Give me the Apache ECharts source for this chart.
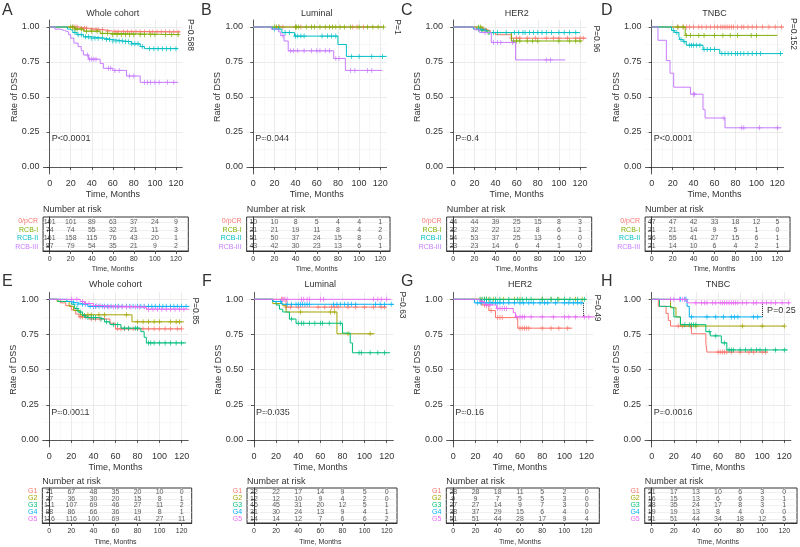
<!DOCTYPE html>
<html><head><meta charset="utf-8">
<script src="https://cdn.jsdelivr.net/npm/echarts@6/dist/echarts.min.js"></script>
<style>html,body{margin:0;padding:0;background:#fff}#c{width:800px;height:547px}</style>
</head><body><div id="c"></div><script>
// ---------- axis ticks & labels ----------
const months=[0,20,40,60,80,100,120];
const minorMonths=[10,30,50,70,90,110];
const survTicks=[0,0.25,0.5,0.75,1];
const minorSurv=[0.125,0.375,0.625,0.875];
const riskTimes=[0,20,40,60,80,100,120];
const rcbNames=['0/pCR','RCB-I','RCB-II','RCB-III'];
const gNames=['G1','G2','G3','G4','G5'];
const rcbColors=['#F8766D','#7CAE00','#00BFC4','#C77CFF'];
const gColors=['#F8766D','#A3A500','#00BF7D','#00B0F6','#E76BF3'];

// ---------- A: whole cohort by RCB ----------
const kmA_pCR=[[0,1],[28,0.99],[38,0.98],[52,0.97],[60,0.965],[124,0.965]];
const kmA_R1=[[0,1],[24,0.985],[32,0.97],[48,0.955],[56,0.945],[123,0.945]];
const kmA_R2=[[0,1],[17,0.985],[19,0.975],[22,0.96],[26,0.945],[32,0.93],[40,0.92],[52,0.91],[60,0.90],[70,0.895],[78,0.88],[86,0.86],[90,0.845],[122,0.845]];
const kmA_R3=[[0,1],[5,0.985],[10,0.975],[14,0.965],[18,0.945],[20,0.92],[23,0.885],[27,0.86],[30,0.83],[32,0.80],[37,0.77],[48,0.74],[51,0.705],[60,0.69],[73,0.65],[86,0.605],[122,0.605]];
const cenA_pCR=[22,24,26,30,33,35,40,44,46,50,55,62,65,70,74,78,82,86,90,95,98,102,106,110,114,118,122];
const cenA_R1=[20,22,24,26,30,35,40,45,50,55,60,64,68,72,76,80,86,90,96,100,110,116,122];
const cenA_R2=[24,27,30,34,37,40,43,46,50,54,57,60,63,66,69,72,75,78,81,84,88,95,99,103,107,111,115,120];
const cenA_R3=[36,38,40,42,44,56,58,62,66,76,80,90,93,96,100,104,112,118];
const riskA_pCR=[101,101,89,63,37,24,9];
const riskA_R1=[74,74,55,32,21,11,3];
const riskA_R2=[161,158,115,76,43,20,1];
const riskA_R3=[87,79,54,35,21,9,2];

// ---------- B: luminal by RCB ----------
const kmB_pCR=[[0,1],[122,1]];
const kmB_R1=[[0,1],[124,1]];
const kmB_R2=[[0,1],[18,0.985],[27,0.96],[39,0.935],[80,0.875],[88,0.79],[126,0.79]];
const kmB_R3=[[0,1],[17,0.985],[24,0.965],[26,0.94],[29,0.90],[33,0.83],[76,0.775],[87,0.69],[122,0.69]];
const cenB_pCR=[25,28,40,45,94,98,104];
const cenB_R1=[20,22,24,40,41,43,50,55,58,63,68,72,75,78,82,86,92,100,108,113,118,123];
const cenB_R2=[20,24,30,34,40,42,45,48,65,70,74,78,93,100,112,122];
const cenB_R3=[28,35,38,42,48,55,60,63,68,72,78,81,92,96,108,112];
const riskB_pCR=[10,10,8,5,4,4,1];
const riskB_R1=[21,21,19,11,8,4,2];
const riskB_R2=[51,50,37,24,15,8,0];
const riskB_R3=[43,42,30,23,13,6,1];

// ---------- C: HER2 by RCB ----------
const kmC_pCR=[[0,1],[22,0.985],[30,0.975],[35,0.96],[40,0.945],[55,0.92],[126,0.92]];
const kmC_R1=[[0,1],[28,0.975],[32,0.96],[55,0.90],[122,0.90]];
const kmC_R2=[[0,1],[19,0.985],[25,0.975],[32,0.96],[120,0.96]];
const kmC_R3=[[0,1],[20,0.98],[25,0.96],[36,0.89],[59,0.765],[106,0.765]];
const cenC_pCR=[24,27,29,31,55,60,63,70,78,88,95,100,108,116,120,123];
const cenC_R1=[24,26,28,31,33,57,60,63,70,75,80,100,110,116,120];
const cenC_R2=[24,27,30,34,38,42,50,58,62,66,68,72,76,80,84,88,93,100,105,110,116];
const cenC_R3=[30,38,42,45,56,88,92];
const riskC_pCR=[44,44,39,25,15,8,3];
const riskC_R1=[32,32,22,12,8,6,1];
const riskC_R2=[54,53,37,25,13,6,0];
const riskC_R3=[23,23,14,6,4,1,0];

// ---------- D: TNBC by RCB ----------
const kmD_pCR=[[0,1],[126,1]];
const kmD_R1=[[0,1],[32,0.94],[120,0.94]];
const kmD_R2=[[0,1],[19,0.975],[22,0.96],[26,0.93],[27,0.91],[30,0.895],[33,0.87],[49,0.84],[65,0.81],[125,0.81]];
const kmD_R3=[[0,1],[6,0.905],[14,0.76],[17.5,0.67],[21,0.57],[37,0.52],[49,0.41],[51,0.35],[70,0.28],[124,0.28]];
const cenD_pCR=[25,30,33,36,40,45,48,52,56,60,63,66,68,70,72,74,76,78,82,86,88,92,96,100,106,112,118,124];
const cenD_R1=[25,30,33,37,45,50,60,68,75,82,95,100];
const cenD_R2=[21,24,28,31,36,38,40,43,46,50,53,56,60,67,70,73,76,80,82,85,88,92,96,100,104,123];
const cenD_R3=[40,41,69,86,88,103,120];
const riskD_pCR=[47,47,42,33,18,12,5];
const riskD_R1=[21,21,14,9,5,1,0];
const riskD_R2=[56,55,41,27,15,6,1];
const riskD_R3=[21,14,10,6,4,2,1];

// ---------- E: whole cohort by G ----------
const kmE_G1=[[0,1],[10,0.975],[15,0.955],[20,0.925],[24,0.895],[27,0.875],[36,0.86],[55,0.83],[60,0.79],[120,0.79]];
const kmE_G2=[[0,1],[7,0.985],[18,0.95],[22,0.92],[28,0.89],[75,0.84],[122,0.84]];
const kmE_G3=[[0,1],[8,0.985],[20,0.965],[23,0.935],[26,0.91],[30,0.885],[33,0.87],[45,0.86],[50,0.84],[55,0.82],[65,0.795],[83,0.77],[86,0.73],[88,0.69],[124,0.69]];
const kmE_G4=[[0,1],[16,0.985],[20,0.975],[25,0.965],[35,0.95],[127,0.95]];
const kmE_G5=[[0,1],[28,0.985],[32,0.97],[40,0.955],[50,0.945],[88,0.93],[127,0.93]];
const cenE_G1=[28,30,33,38,42,46,50,62,65,68,72,76,80,85,90,95,100,105,110,116,120];
const cenE_G2=[30,35,38,45,50,70,80,85,90,95,100,110,115,118];
const cenE_G3=[25,28,32,35,38,40,42,47,52,58,62,68,72,78,80,90,92,95,100,105,110,115,120];
const cenE_G4=[22,26,30,33,37,40,42,45,48,50,53,56,60,63,66,70,73,76,80,83,86,90,93,96,100,103,106,110,113,116,120,124];
const cenE_G5=[20,25,30,33,36,40,43,46,50,54,58,62,66,70,74,78,82,86,90,94,98,102,106,110,114,118,122];
const riskE_G1=[71,67,48,35,20,10,0];
const riskE_G2=[37,36,30,20,15,8,1];
const riskE_G3=[111,107,69,46,27,11,2];
const riskE_G4=[88,86,66,36,19,8,1];
const riskE_G5=[116,116,100,69,41,27,11];

// ---------- F: luminal by G ----------
const kmF_G1=[[0,1],[29,0.945],[120,0.945]];
const kmF_G2=[[0,1],[17,0.97],[26,0.955],[29,0.91],[75,0.755],[109,0.755]];
const kmF_G3=[[0,1],[17,0.985],[20,0.96],[23,0.93],[26,0.91],[32,0.86],[38,0.83],[80,0.76],[87,0.69],[89,0.62],[123,0.62]];
const kmF_G4=[[0,1],[17,0.985],[25,0.965],[130,0.965]];
const kmF_G5=[[0,1],[124,1]];
const cenF_G1=[25,27,29,33,40,58,64,70,73,76,85,92,100,108,115,118];
const cenF_G2=[42,69,73,85,105];
const cenF_G3=[34,40,43,45,50,55,60,62,68,78,95,97,105,112,118];
const cenF_G4=[24,30,34,38,40,42,44,46,48,50,72,75,78,82,85,88,92,110,114,118,124];
const cenF_G5=[26,28,30,43,45,48,50,60,63,108,112,115,120];
const riskF_G1=[22,22,17,14,9,5,0];
const riskF_G2=[12,12,10,9,4,2,0];
const riskF_G3=[46,45,31,20,12,5,1];
const riskF_G4=[31,30,24,13,9,4,1];
const riskF_G5=[14,14,12,7,6,6,2];

// ---------- G: HER2 by G ----------
const kmG_G1=[[0,1],[25,0.96],[32,0.92],[38,0.87],[58,0.795],[107,0.795]];
const kmG_G2=[[0,1],[120,1]];
const kmG_G3=[[0,1],[119,1]];
const kmG_G4=[[0,1],[19,0.975],[117,0.975]];
const kmG_G5=[[0,1],[24,0.985],[28,0.96],[39,0.935],[54,0.905],[56,0.875],[130,0.875]];
const cenG_G1=[28,30,34,40,42,44,60,62,64,66,68,80,88,95,103];
const cenG_G2=[25,28,30,32,36,45,55,60,80,88,95,110,116];
const cenG_G3=[24,26,28,30,33,38,42,50,58,62,66,70,80,88,94,100,105,112,118];
const cenG_G4=[22,25,28,30,33,35,38,40,42,45,50,55,60,63,68,72,78,82,85,92,100,104,108,112,115];
const cenG_G5=[26,30,33,40,42,44,46,48,57,60,62,64,70,80,90,100,104,110,118,122];
const riskG_G1=[28,28,18,11,5,2,0];
const riskG_G2=[9,9,7,5,5,3,0];
const riskG_G3=[27,27,14,9,7,3,0];
const riskG_G4=[38,37,29,15,6,4,0];
const riskG_G5=[51,51,44,28,17,9,4];

// ---------- H: TNBC by G ----------
const kmH_G1=[[0,1],[6,0.95],[13,0.90],[15,0.85],[17,0.81],[36,0.755],[49,0.69],[50,0.625],[105,0.625]];
const kmH_G2=[[0,1],[17,0.94],[22,0.875],[26,0.81],[120,0.81]];
const kmH_G3=[[0,1],[7,0.95],[17,0.94],[20,0.875],[26,0.82],[49,0.77],[53,0.74],[63,0.69],[68,0.64],[123,0.64]];
const kmH_G4=[[0,1],[32,0.95],[34,0.875],[100,0.875]];
const kmH_G5=[[0,1],[32,0.975],[125,0.975]];
const cenH_G1=[24,28,35,60,62,64,66,68,72,80,88,92,100,103];
const cenH_G2=[40,82,100,120];
const cenH_G3=[30,34,36,38,40,52,58,66,70,72,74,80,85,90,95,98,103,112,120];
const cenH_G4=[26,30,31,36,50,58,65,72,75,78,92,96];
const cenH_G5=[17,20,25,28,30,40,45,48,50,55,58,62,64,66,68,70,72,74,76,78,82,86,92,95,100,104,108,112,118,124];
const riskH_G1=[21,17,13,10,6,3,0];
const riskH_G2=[16,15,13,6,6,3,1];
const riskH_G3=[38,35,24,17,8,3,1];
const riskH_G4=[19,19,13,8,4,0,0];
const riskH_G5=[51,51,44,34,18,12,5];

// ---------- layout ----------
const FONT='"Liberation Sans", Arial, sans-serif';
const rows=[
  {kmTop:20, kmH:154, tblTop:217, tblH:34, titleY:14, timeY:195, narY:210, tblTimeY:269, letterY:3, pY:139},
  {kmTop:292.3, kmH:154.7, tblTop:488, tblH:35, titleY:285, timeY:468, narY:482, tblTimeY:542, letterY:274, pY:413}
];
const panels=[
 {L:'A',title:'Whole cohort',row:0,x0:49.7,s:1.052,tblR:188.3,names:rcbNames,cols:rcbColors,km:[kmA_pCR,kmA_R1,kmA_R2,kmA_R3],cen:[cenA_pCR,cenA_R1,cenA_R2,cenA_R3],risk:[riskA_pCR,riskA_R1,riskA_R2,riskA_R3],p:'P<0.0001',side:'P=0.588',sx:190,sy:35,rot:true,lx:2},
 {L:'B',title:'Luminal',row:0,x0:253.3,s:1.058,tblR:390,names:rcbNames,cols:rcbColors,km:[kmB_pCR,kmB_R1,kmB_R2,kmB_R3],cen:[cenB_pCR,cenB_R1,cenB_R2,cenB_R3],risk:[riskB_pCR,riskB_R1,riskB_R2,riskB_R3],p:'P=0.044',side:'P=1',sx:397,sy:27,rot:true,lx:201},
 {L:'C',title:'HER2',row:0,x0:453.3,s:1.056,tblR:591.7,names:rcbNames,cols:rcbColors,km:[kmC_pCR,kmC_R1,kmC_R2,kmC_R3],cen:[cenC_pCR,cenC_R1,cenC_R2,cenC_R3],risk:[riskC_pCR,riskC_R1,riskC_R2,riskC_R3],p:'P=0.4',side:'P=0.96',sx:596,sy:39,rot:true,lx:401},
 {L:'D',title:'TNBC',row:0,x0:651.7,s:1.047,tblR:790,names:rcbNames,cols:rcbColors,km:[kmD_pCR,kmD_R1,kmD_R2,kmD_R3],cen:[cenD_pCR,cenD_R1,cenD_R2,cenD_R3],risk:[riskD_pCR,riskD_R1,riskD_R2,riskD_R3],p:'P<0.0001',side:'P=0.152',sx:793,sy:34,rot:true,lx:601},
 {L:'E',title:'Whole cohort',row:1,x0:49.3,s:1.103,tblR:191.7,names:gNames,cols:gColors,km:[kmE_G1,kmE_G2,kmE_G3,kmE_G4,kmE_G5],cen:[cenE_G1,cenE_G2,cenE_G3,cenE_G4,cenE_G5],risk:[riskE_G1,riskE_G2,riskE_G3,riskE_G4,riskE_G5],p:'P=0.0011',side:'P=0.85',sx:195,sy:311,rot:true,lx:2},
 {L:'F',title:'Luminal',row:1,x0:254,s:1.106,tblR:397,names:gNames,cols:gColors,km:[kmF_G1,kmF_G2,kmF_G3,kmF_G4,kmF_G5],cen:[cenF_G1,cenF_G2,cenF_G3,cenF_G4,cenF_G5],risk:[riskF_G1,riskF_G2,riskF_G3,riskF_G4,riskF_G5],p:'P=0.035',side:'P=0.63',sx:402,sy:305,rot:true,lx:202},
 {L:'G',title:'HER2',row:1,x0:453.3,s:1.111,tblR:599.3,names:gNames,cols:gColors,km:[kmG_G1,kmG_G2,kmG_G3,kmG_G4,kmG_G5],cen:[cenG_G1,cenG_G2,cenG_G3,cenG_G4,cenG_G5],risk:[riskG_G1,riskG_G2,riskG_G3,riskG_G4,riskG_G5],p:'P=0.16',side:'P=0.49',sx:597,sy:308,rot:true,lx:401,br:[3,4]},
 {L:'H',title:'TNBC',row:1,x0:651.7,s:1.105,tblR:797,names:gNames,cols:gColors,km:[kmH_G1,kmH_G2,kmH_G3,kmH_G4,kmH_G5],cen:[cenH_G1,cenH_G2,cenH_G3,cenH_G4,cenH_G5],risk:[riskH_G1,riskH_G2,riskH_G3,riskH_G4,riskH_G5],p:'P=0.0016',side:'P=0.25',sx:767,sy:311,rot:false,lx:601,br:[3,4]}
];

const PLUS='path://M-0.14,-1L0.14,-1L0.14,-0.14L1,-0.14L1,0.14L0.14,0.14L0.14,1L-0.14,1L-0.14,0.14L-1,0.14L-1,-0.14L-0.14,-0.14Z';
function survAt(curve,t){let v=curve[0][1];for(const p of curve){if(p[0]<=t)v=p[1];else break;}return v;}

const grid=[],xAxis=[],yAxis=[],series=[],graphic=[];
const AX='#333', GRID='#E6E6E6', MINOR='#F3F3F3', TXT='#333';
function txt(x,y,text,size,opt){opt=opt||{};graphic.push({type:'text',x:x,y:y,rotation:opt.rot||0,silent:true,
  style:{text:text,fontSize:size,fontFamily:FONT,fill:opt.fill||TXT,align:opt.align||'center',verticalAlign:opt.va||'middle',fontWeight:opt.fw||'normal'}});}

panels.forEach(pn=>{
  const r=rows[pn.row];
  const kmLeft=pn.x0-6*pn.s, kmW=132*pn.s;
  const gi=grid.length;
  grid.push({left:kmLeft,top:r.kmTop,width:kmW,height:r.kmH,outerBoundsMode:'none',containLabel:false});
  const xi=xAxis.length, yi=yAxis.length;
  xAxis.push({gridIndex:gi,type:'value',min:-6,max:126,position:'bottom',
    axisLine:{show:true,lineStyle:{color:AX,width:0.8}},
    axisTick:{show:true,customValues:months,length:3,lineStyle:{color:AX,width:0.8}},
    axisLabel:{show:true,customValues:months,showMinLabel:true,showMaxLabel:true,hideOverlap:false,fontSize:9,fontFamily:FONT,color:TXT,margin:5},
    splitLine:{show:true,lineStyle:{color:GRID,width:0.8}}});
  xAxis.push({gridIndex:gi,type:'value',min:-6,max:126,position:'bottom',axisLine:{show:false},
    axisTick:{show:false,customValues:minorMonths},axisLabel:{show:false,customValues:minorMonths},
    splitLine:{show:true,lineStyle:{color:MINOR,width:0.6}}});
  yAxis.push({gridIndex:gi,type:'value',min:-0.05,max:1.05,position:'left',
    axisLine:{show:true,lineStyle:{color:AX,width:0.8}},
    axisTick:{show:true,customValues:survTicks,length:3,lineStyle:{color:AX,width:0.8}},
    axisLabel:{show:true,customValues:survTicks,showMinLabel:true,showMaxLabel:true,hideOverlap:false,fontSize:9,fontFamily:FONT,color:TXT,margin:4,formatter:v=>Number(v).toFixed(2)},
    splitLine:{show:true,lineStyle:{color:GRID,width:0.8}}});
  yAxis.push({gridIndex:gi,type:'value',min:-0.05,max:1.05,position:'left',axisLine:{show:false},
    axisTick:{show:false,customValues:minorSurv},axisLabel:{show:false,customValues:minorSurv},
    splitLine:{show:true,lineStyle:{color:MINOR,width:0.6}}});
  pn.km.forEach((curve,k)=>{
    const s={type:'line',xAxisIndex:xi,yAxisIndex:yi,data:curve,step:'end',symbol:'none',silent:true,
      lineStyle:{color:pn.cols[k],width:1},clip:true,z:2+k};
    if(pn.br && pn.br[0]===k){
      const tEnd=curve[curve.length-1][0];
      const other=pn.km[pn.br[1]];
      s.markLine={silent:true,symbol:'none',label:{show:false},animation:false,
        lineStyle:{type:'dotted',color:'#222',width:1},
        data:[[{coord:[tEnd,curve[curve.length-1][1]]},{coord:[tEnd,survAt(other,tEnd)]}]]};
    }
    series.push(s);
    series.push({type:'scatter',xAxisIndex:xi,yAxisIndex:yi,data:pn.cen[k].map(t=>[t,survAt(curve,t)]),
      symbol:PLUS,symbolSize:5,itemStyle:{color:pn.cols[k],opacity:1},silent:true,clip:true,z:2+k});
  });
  // risk table
  const n=pn.names.length;
  const tL=pn.x0-6.3*pn.s, tW=pn.tblR-tL, tMax=(pn.tblR-pn.x0)/pn.s;
  const tg=grid.length;
  grid.push({left:tL,top:r.tblTop,width:tW,height:r.tblH,show:true,borderColor:AX,borderWidth:1,backgroundColor:'transparent',outerBoundsMode:'none',containLabel:false});
  const txi=xAxis.length, tyi=yAxis.length;
  const rowsIdx=pn.names.map((_,i)=>i+1);
  xAxis.push({gridIndex:tg,type:'value',min:-6.3,max:tMax,position:'bottom',
    axisLine:{show:true,lineStyle:{color:AX,width:1}},
    axisTick:{show:true,customValues:months,length:3,lineStyle:{color:AX,width:0.8}},
    axisLabel:{show:true,customValues:months,showMinLabel:true,showMaxLabel:true,hideOverlap:false,fontSize:7,fontFamily:FONT,color:TXT,margin:5},
    splitLine:{show:true,lineStyle:{color:GRID,width:0.6}}});
  yAxis.push({gridIndex:tg,type:'value',min:0.4,max:n+0.6,inverse:true,position:'left',
    axisLine:{show:true,lineStyle:{color:AX,width:1}},
    axisTick:{show:true,customValues:rowsIdx,length:3,lineStyle:{color:AX,width:0.8}},
    axisLabel:{show:false,customValues:rowsIdx},
    splitLine:{show:true,lineStyle:{color:GRID,width:0.6}}});
  // category axis only for the coloured group names
  yAxis.push({gridIndex:tg,type:'category',data:pn.names,inverse:true,boundaryGap:true,position:'left',offset:0,
    axisLine:{show:false},axisTick:{show:false},splitLine:{show:false},
    axisLabel:{show:true,interval:0,hideOverlap:false,fontSize:7,fontFamily:FONT,margin:5,
      color:v=>pn.cols[pn.names.indexOf(v)]||TXT}});
  const rdata=[];
  pn.risk.forEach((arr,g)=>arr.forEach((v,k)=>rdata.push([riskTimes[k],g+1,v])));
  series.push({type:'scatter',xAxisIndex:txi,yAxisIndex:tyi,data:rdata,symbolSize:0.1,itemStyle:{color:'rgba(0,0,0,0)'},silent:true,
    label:{show:true,position:'inside',formatter:p=>String(p.value[2]),fontSize:7,fontFamily:FONT,color:TXT},labelLayout:{hideOverlap:false}});
  // texts
  const cx=pn.x0+60*pn.s;
  txt(pn.lx,r.letterY,pn.L,16,{align:'left',va:'top'});
  txt(cx,r.titleY,pn.title,9);
  txt(kmLeft-29,r.kmTop+r.kmH/2,'Rate of DSS',9,{rot:Math.PI/2});
  txt(cx,r.timeY,'Time, Months',9);
  txt(tL,r.narY,'Number at risk',9,{align:'left'});
  txt(cx,r.tblTimeY,'Time, Months',7);
  txt(pn.x0+2,r.pY,pn.p,9,{align:'left'});
  if(pn.rot) txt(pn.sx,pn.sy,pn.side,8.5,{rot:-Math.PI/2});
  else txt(pn.sx,pn.sy,pn.side,9,{align:'left'});
});

const chart=echarts.init(document.getElementById('c'),null,{renderer:'canvas'});
chart.setOption({animation:false,backgroundColor:'#fff',grid,xAxis,yAxis,series,graphic});
</script></body></html>
